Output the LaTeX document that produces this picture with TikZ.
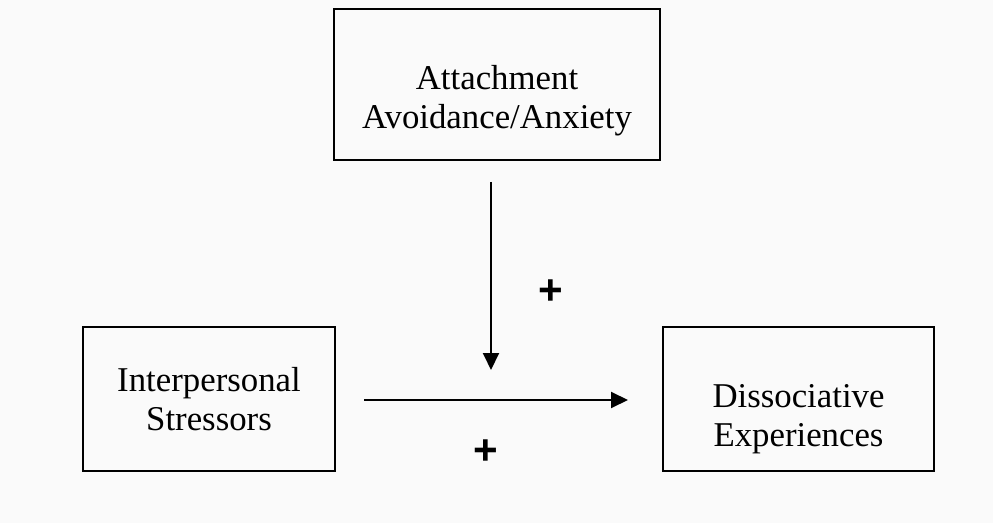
\documentclass[tikz,border=0pt]{standalone}
\usepackage{fontspec}
\setmainfont{Liberation Serif}
\newfontfamily\signfont{Liberation Sans}
\usetikzlibrary{arrows.meta,positioning}

\tikzset{
	box/.style={draw, line width=1.1pt, align=center, inner sep=0pt, font=\fontsize{19.8}{22}\selectfont},
	link/.style={line width=1.1pt, -{Triangle[length=0.34cm, width=0.32cm]}},
	sign/.style={font=\signfont\bfseries\fontsize{24}{24}\selectfont, inner sep=0pt}
}
\newcommand{\dropby}[1]{\rule{0pt}{#1}}

\begin{document}
\begin{tikzpicture}[x=0.02cm, y=-0.02cm]
	%%%%% START %%%%%
	
	\fill[black!2] (0, 0) rectangle (993, 523);
	\useasboundingbox (0, 0) rectangle (993, 523);
	
	% the three variables
	\node[box, minimum width=6.52cm, minimum height=3.02cm] (att) at (497, 84.5) {\dropby{1.12cm}Attachment\\Avoidance/Anxiety};
	\node[box, minimum width=5.04cm, minimum height=2.88cm] (stress) at (209, 399) {Interpersonal\\Stressors};
	\node[box, minimum width=5.42cm, minimum height=2.88cm] (dissoc) at (798.5, 399) {\dropby{1.28cm}Dissociative\\Experiences};
	
	% free arrow ends
	\coordinate (mod-top) at (491, 182);
	\coordinate (mod-tip) at (491, 370);
	\coordinate (path-start) at (364, 400);
	\coordinate (path-tip) at (628, 400);
	
	\draw[link] (mod-top) -- (mod-tip);
	\draw[link] (path-start) -- (path-tip);
	
	\node[sign] (mod-sign) at (551, 292.5) {+};
	\node[sign] (path-sign) at (486, 452.5) {+};
	
	%%%%% END %%%%%
\end{tikzpicture}
\end{document}
